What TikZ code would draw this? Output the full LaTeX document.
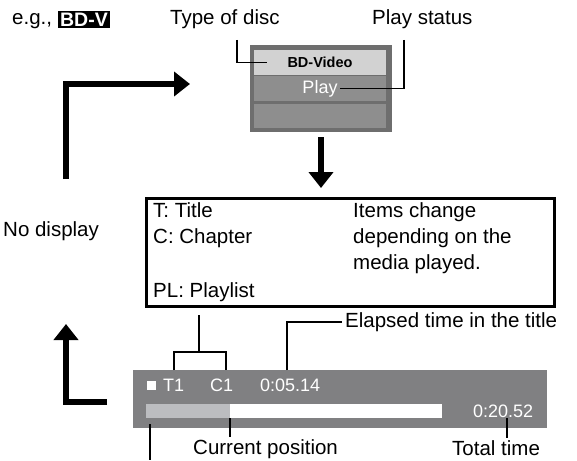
\documentclass[tikz,border=0pt]{standalone}
\usepackage{fontspec}
\setmainfont{Liberation Sans}
\usetikzlibrary{arrows.meta, positioning}
\definecolor{FrameGray}{RGB}{110, 110, 110}
\definecolor{RowGray}{RGB}{142, 142, 142}
\definecolor{PaleGray}{RGB}{210, 210, 210}
\definecolor{BarGray}{RGB}{128, 128, 130}
\definecolor{KnobGray}{RGB}{188, 189, 192}
\tikzset{
    txt/.style={font=\fontsize{20.5}{24}\selectfont, inner sep=0pt, anchor=base west},
    bartxt/.style={font=\fontsize{18}{21}\selectfont, text=white, inner sep=0pt, anchor=base west},
    leader/.style={line width=1.6pt, black},
    bigarrow/.style={line width=6.5pt, -{Triangle[width=24pt, length=16pt]}},
    rowbox/.style={minimum width=132pt, inner sep=0pt},
}

\begin{document}
\begin{tikzpicture}[x=1pt, y=-1pt, >=Stealth]
    \useasboundingbox (0,0) rectangle (577,460);
    % Heading: example disc and the two labels
    \node[txt] (eg) at (12,25) {e.g.,};
    \node[fill=black, text=white, font=\fontsize{19.5}{20}\selectfont\bfseries,
          minimum width=52pt, minimum height=17pt, inner sep=0pt] (badge) at (84,20) {BD-V};
    \node[txt] (disctype) at (170,25) {Type of disc};
    \node[txt] (status) at (372,25) {Play status};
    % On-screen panel (three rows)
    \node[fill=FrameGray, minimum width=142pt, minimum height=87pt, inner sep=0pt] (panel) at (321,88.5) {};
    \node[rowbox, fill=PaleGray, minimum height=25pt] (row1) at (320,62.5) {};
    \node[rowbox, fill=RowGray, minimum height=25pt] (row2) at (320,88.5) {};
    \node[rowbox, fill=RowGray, minimum height=24pt] (row3) at (320,116) {};
    \node[font=\bfseries\fontsize{14.5}{16}\selectfont, inner sep=1pt] (discname) at (row1) {BD-Video};
    \node[font=\fontsize{18}{21}\selectfont, text=white, inner sep=2pt] (play) at (row2) {Play};
    % Leaders to the panel
    \coordinate (discfoot) at (237,40);
    \coordinate (statusfoot) at (404,40);
    \draw[leader] (discfoot) |- ([xshift=13pt]row1.west);
    \draw[leader] (statusfoot) |- (play.east);
    % Big arrows
    \coordinate (loopbot) at (66,179);
    \coordinate (looptip) at (190,84);
    \draw[bigarrow] (loopbot) |- (looptip);
    \node[txt] (nodisp) at (3,236) {No display};
    \coordinate (barleft) at (107,402);
    \coordinate (uptip) at (66,324);
    \draw[bigarrow] (barleft) -| (uptip);
    % Legend box
    \node[draw, line width=2.5pt, minimum width=408pt, minimum height=108pt,
          inner sep=0pt, anchor=north west] (items) at (145,197) {};
    \draw[bigarrow] ([yshift=-5pt]panel.south) -- ([yshift=9pt]panel.south |- items.north);
    \node[txt] (ttitle) at (153,217) {T: Title};
    \node[txt] (cchap) at (153,243) {C: Chapter};
    \node[txt] (plist) at (153,297) {PL: Playlist};
    \node[txt] (note1) at (353,217) {Items change};
    \node[txt] (note2) at (353,243) {depending on the};
    \node[txt] (note3) at (353,269) {media played.};
    % Playback bar
    \node[fill=BarGray, minimum width=414pt, minimum height=58pt, inner sep=0pt] (bar) at (340,399) {};
    \node[fill=white, minimum size=9pt, inner sep=0pt] (stopmark) at (151.5,385) {};
    \node[bartxt] (tnum) at (163,391) {T1};
    \node[bartxt] (cnum) at (210,391) {C1};
    \node[bartxt] (elapsedtime) at (260,391) {0:05.14};
    \node[bartxt] (totaltime) at (473,417) {0:20.52};
    \node[fill=white, minimum width=296pt, minimum height=14pt, inner sep=0pt] (track) at (294,411) {};
    \node[fill=KnobGray, minimum width=84pt, minimum height=14pt, inner sep=0pt] (knob) at (188,411) {};
    % Bracket from the legend to T1 and C1
    \coordinate (brT) at (174,370);
    \coordinate (brC) at (226,370);
    \coordinate (brmid) at (199,352);
    \draw[leader] (brT) |- (brmid) -| (brC);
    \draw[leader] (brmid) -- ([yshift=-7pt]items.south -| brmid);
    % Labels under and beside the bar
    \node[txt] (elapsed) at (345,327) {Elapsed time in the title};
    \coordinate (elapsedfoot) at (287,370);
    \draw[leader] (elapsedfoot) |- ([xshift=-3pt]elapsed.west);
    \node[txt] (curpos) at (193,454) {Current position};
    \draw[leader] (knob.south east) -- ([yshift=2pt]curpos.north -| knob.south east);
    \coordinate (startpt) at (150,424);
    \coordinate (startend) at (150,460);
    \draw[leader] (startpt) -- (startend);
    \node[txt] (total) at (452,455) {Total time};
    \coordinate (totalfoot) at (507,418);
    \draw[leader] (totalfoot) -- ([yshift=2pt]total.north -| totalfoot);
\end{tikzpicture}
\end{document}
